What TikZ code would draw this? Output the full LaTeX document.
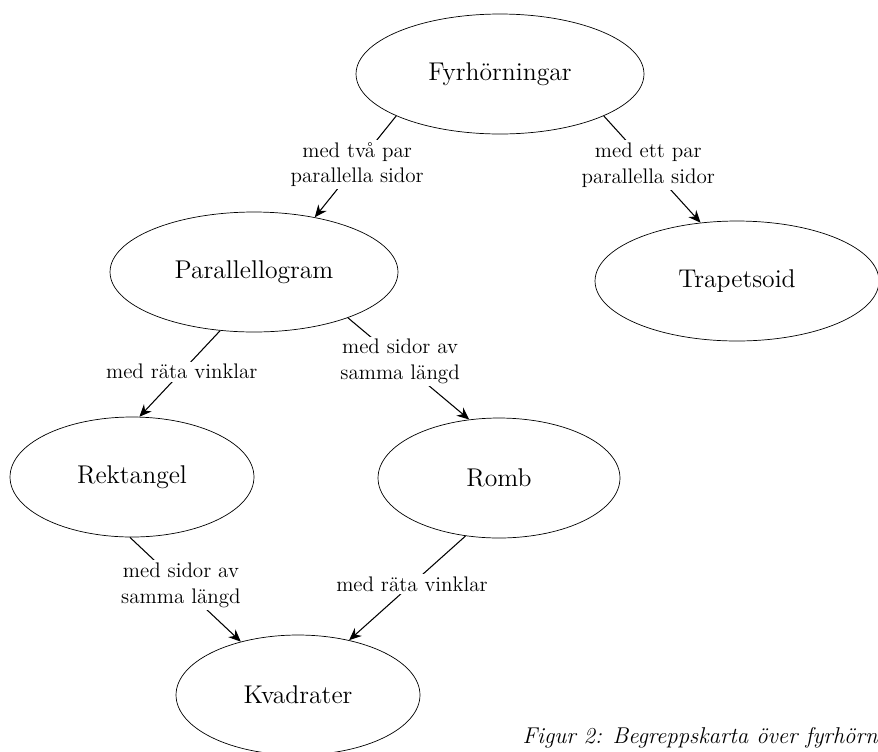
\documentclass[tikz,border=0pt]{standalone}
\usepackage{fontspec}
\usetikzlibrary{shapes.geometric,arrows.meta}
\begin{document}
\begin{tikzpicture}[x=0.02cm,y=-0.02cm,>={Stealth[length=7pt,width=6pt]},
  begrepp/.style={draw,ellipse,inner sep=0pt,minimum height=2.4cm,font=\fontsize{14.6}{17}\selectfont},
  etikett/.style={fill=white,align=center,inner sep=1.5pt,font=\fontsize{12}{14.5}\selectfont}]
\useasboundingbox (0,0) rectangle (878,751);
% begrepp
\node[begrepp,minimum width=5.76cm] (fyr) at (500,74) {Fyrhörningar};
\node[begrepp,minimum width=5.76cm] (par) at (254,272) {Parallellogram};
\node[begrepp,minimum width=5.68cm] (tra) at (737,281) {Trapetsoid};
\node[begrepp,minimum width=4.88cm] (rek) at (132,477) {Rektangel};
\node[begrepp,minimum width=4.84cm] (rom) at (499,478) {Romb};
\node[begrepp,minimum width=4.88cm] (kva) at (298,695) {Kvadrater};
% pilar
\draw[->,semithick] (fyr.202) -- node[etikett,pos=.48]{med två par\\parallella sidor} (par.42);
\draw[->,semithick] (fyr.338) -- node[etikett,pos=.46]{med ett par\\parallella sidor} (tra.122);
\draw[->,semithick] (par.240) -- node[etikett,pos=.475]{med räta vinklar} (rek.83);
\draw[->,semithick] (par.334) -- node[etikett,pos=.43]{med sidor av\\samma längd} (rom.117);
\draw[->,semithick] (rek.268) -- node[etikett,pos=.46]{med sidor av\\samma längd} (kva.137);
\draw[->,semithick] (rom.240) -- node[etikett,pos=.46]{med räta vinklar} (kva.47);
% rubrik
\node[anchor=base east,inner sep=0pt,font=\fontsize{13}{15.5}\selectfont\itshape] (rubrik) at (878,743) {Figur 2: Begreppskarta över fyrhörn};
\end{tikzpicture}
\end{document}
